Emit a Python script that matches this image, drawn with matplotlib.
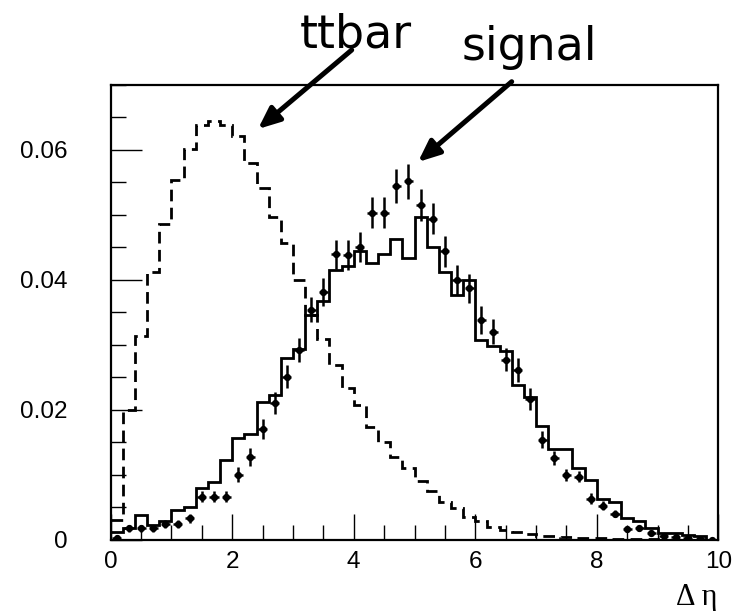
import numpy as np
import matplotlib
matplotlib.use("Agg")
import matplotlib.pyplot as plt
from matplotlib.ticker import MultipleLocator

# ---------------- data ----------------
bin_lo, bin_hi, n_bins = 0.0, 10.0, 50

ttbar = [0.0030, 0.0199, 0.0314, 0.0412, 0.0486, 0.0553, 0.0602, 0.0639, 0.0644, 0.0638,
         0.0622, 0.0580, 0.0541, 0.0496, 0.0456, 0.0399, 0.0346, 0.0309, 0.0268, 0.0234,
         0.0207, 0.0174, 0.0150, 0.0127, 0.0110, 0.0090, 0.0075, 0.0058, 0.0048, 0.0035,
         0.0028, 0.0020, 0.0015, 0.0012, 0.0009, 0.0006, 0.0005, 0.0004, 0.0003, 0.0002,
         0.0002, 0.0001, 0.0001, 0.0001, 0.0001, 0.0000, 0.0000, 0.0000, 0.0000, 0.0000]

signal_mc = [0.0012, 0.0017, 0.0038, 0.0022, 0.0029, 0.0046, 0.0050, 0.0080, 0.0089, 0.0122,
             0.0156, 0.0162, 0.0212, 0.0223, 0.0280, 0.0294, 0.0346, 0.0368, 0.0415, 0.0422,
             0.0445, 0.0426, 0.0439, 0.0463, 0.0433, 0.0497, 0.0450, 0.0412, 0.0376, 0.0400,
             0.0307, 0.0298, 0.0291, 0.0238, 0.0220, 0.0175, 0.0140, 0.0139, 0.0110, 0.0091,
             0.0063, 0.0058, 0.0033, 0.0029, 0.0017, 0.0010, 0.0010, 0.0007, 0.0006, 0.0000]

signal_pts = [0.0003, 0.0017, 0.0017, 0.0017, 0.0024, 0.0024, 0.0033, 0.0066, 0.0066, 0.0066,
              0.0100, 0.0127, 0.0170, 0.0210, 0.0251, 0.0292, 0.0354, 0.0381, 0.0439, 0.0438,
              0.0450, 0.0503, 0.0503, 0.0545, 0.0552, 0.0515, 0.0494, 0.0444, 0.0400, 0.0387,
              0.0338, 0.0320, 0.0277, 0.0261, 0.0216, 0.0154, 0.0125, 0.0099, 0.0097, 0.0063,
              0.0052, 0.0040, 0.0016, 0.0017, 0.0010, 0.0005, 0.0004, 0.0003, 0.0001, 0.0000]

signal_err = [0.0004, 0.0005, 0.0005, 0.0005, 0.0006, 0.0006, 0.0007, 0.0008, 0.0008, 0.0008,
              0.0011, 0.0014, 0.0015, 0.0017, 0.0017, 0.0018, 0.0019, 0.0021, 0.0023, 0.0023,
              0.0023, 0.0024, 0.0024, 0.0026, 0.0027, 0.0025, 0.0024, 0.0024, 0.0023, 0.0022,
              0.0021, 0.0019, 0.0018, 0.0018, 0.0017, 0.0013, 0.0011, 0.0009, 0.0009, 0.0008,
              0.0007, 0.0006, 0.0004, 0.0004, 0.0003, 0.0003, 0.0003, 0.0003, 0.0001, 0.0000]

y_ticks = [0, 0.02, 0.04, 0.06]
y_tick_labels = ["0", "0.02", "0.04", "0.06"]
x_ticks = [0, 2, 4, 6, 8, 10]
x_tick_labels = ["0", "2", "4", "6", "8", "10"]

# ---------------- figure ----------------
W, H = 736, 611
fig = plt.figure(figsize=(W / 100, H / 100), dpi=100)
ax = fig.add_axes([110.7 / W, 1 - 539.5 / H, 607.6 / W, 454.5 / H])

edges = np.linspace(bin_lo, bin_hi, n_bins + 1)
centers = 0.5 * (edges[:-1] + edges[1:])

ax.stairs(ttbar, edges, color="black", lw=2.0, linestyle=(0, (4.2, 2.3)), baseline=None)
ax.stairs(signal_mc, edges, color="black", lw=2.0, baseline=None)
ax.errorbar(centers, signal_pts, yerr=signal_err, xerr=0.075, fmt="o", color="black",
            ms=4.2, elinewidth=1.8, capsize=0)

ax.set_xlim(0, 10)
ax.set_ylim(0, 0.0700)

for s in ax.spines.values():
    s.set_linewidth(1.6)

ax.set_xticks(x_ticks)
ax.set_xticklabels(x_tick_labels, family="Liberation Sans", fontsize=17.5)
ax.set_yticks(y_ticks)
ax.set_yticklabels(y_tick_labels, family="Liberation Sans", fontsize=17.5)
ax.xaxis.set_minor_locator(MultipleLocator(0.5))
ax.yaxis.set_minor_locator(MultipleLocator(0.005))
ax.tick_params(axis="y", which="major", direction="in", length=22, width=1.0, pad=31,
               right=False)
ax.tick_params(axis="y", which="minor", direction="in", length=11, width=1.0, right=False)
ax.tick_params(axis="x", which="major", direction="in", length=19, width=1.0, pad=8,
               top=False)
ax.tick_params(axis="x", which="minor", direction="in", length=11, width=1.0, top=False)

fig.text(718 / W, 1 - 605 / H, "\u0394 \u03b7", family="Liberation Serif", fontsize=22,
         ha="right", va="baseline")

fig.text(300 / W, 1 - 47 / H, "ttbar", family="DejaVu Sans", fontsize=33,
         ha="left", va="baseline")
fig.text(462 / W, 1 - 60 / H, "signal", family="DejaVu Sans", fontsize=33,
         ha="left", va="baseline")

arrow_kw = dict(arrowstyle="-|>,head_length=0.65,head_width=0.28", lw=3.6, color="black",
                mutation_scale=20, shrinkA=0, shrinkB=0)
ax.annotate("", xy=(258, H - 129), xytext=(351.7, H - 50), xycoords="figure pixels",
            textcoords="figure pixels", arrowprops=arrow_kw)
ax.annotate("", xy=(418, H - 162), xytext=(511.7, H - 81.7), xycoords="figure pixels",
            textcoords="figure pixels", arrowprops=arrow_kw)

fig.savefig("out.png", dpi=100)
